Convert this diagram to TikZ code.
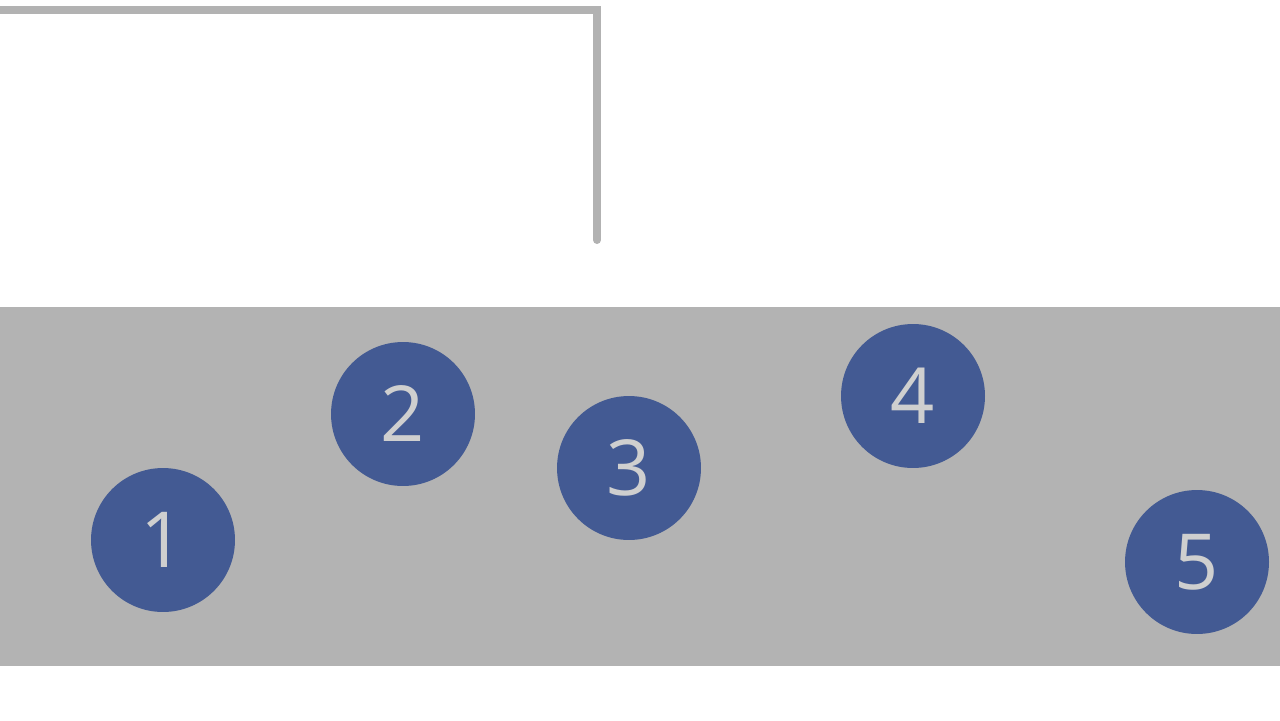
\documentclass[tikz,border=0pt]{standalone}
\usepackage{fontspec}
\setmainfont{Open Sans}
\definecolor{bandgray}{HTML}{B3B3B3}
\definecolor{linegray}{HTML}{B2B2B2}
\definecolor{ballblue}{HTML}{435A93}
\definecolor{digitgray}{HTML}{CFCFCF}

\begin{document}
\begin{tikzpicture}[x=0.02cm,y=-0.02cm]

        \useasboundingbox (0,0) rectangle (1280,720);
        \fill[bandgray] (0,307) rectangle (1280,666);

        \coordinate (a) at (-10,10);
        \coordinate (b) at (597,10);
        \coordinate (c) at (597,240);
        \draw[linegray, line width=0.16cm, line cap=round] (a) -- (b) -- (c);

        \begin{scope}[every node/.style={circle, fill=ballblue, minimum size=2.88cm,
            inner sep=0pt, text=digitgray, font=\fontsize{44}{44}\selectfont}]
          \node (1) at (163,540)  {1};
          \node (2) at (403,414)  {2};
          \node (3) at (629,468)  {3};
          \node (4) at (913,396)  {4};
          \node (5) at (1197,562) {5};
        \end{scope}

      \end{tikzpicture}
\end{document}
